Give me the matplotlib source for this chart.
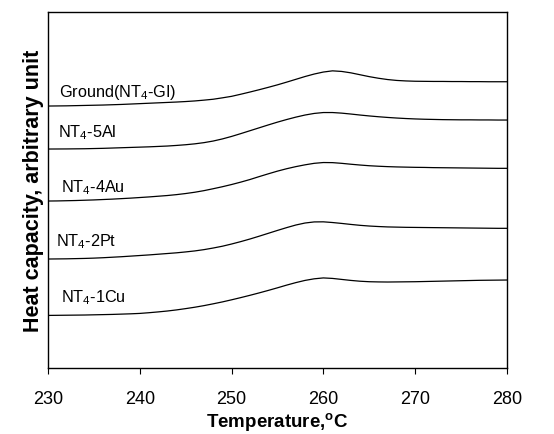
import matplotlib
matplotlib.use("Agg")
import matplotlib.pyplot as plt

plt.rcParams['font.family'] = ['Liberation Sans', 'DejaVu Sans']
plt.rcParams['mathtext.fontset'] = 'custom'
plt.rcParams['mathtext.rm'] = 'Liberation Sans'
plt.rcParams['mathtext.it'] = 'Liberation Sans:italic'
plt.rcParams['mathtext.bf'] = 'Liberation Sans:bold'

temperature = list(range(230, 281))

ground = [262.0, 262.1, 262.2, 262.4, 262.6, 262.8, 263.0, 263.3, 263.6, 264.0,
          264.4, 264.8, 265.2, 265.6, 266.0, 266.5, 267.1, 267.9, 268.8, 270.2,
          271.7, 273.8, 276.0, 278.3, 280.7, 283.2, 285.9, 288.7, 291.5, 294.0,
          296.0, 297.2, 296.6, 295.2, 293.3, 291.4, 289.8, 288.5, 287.6, 287.1,
          286.8, 286.7, 286.6, 286.6, 286.5, 286.5, 286.4, 286.4, 286.3, 286.3, 286.3]
al5 = [219.0, 219.05, 219.1, 219.2, 219.3, 219.5, 219.7, 220.0, 220.3, 220.6,
       220.9, 221.2, 221.6, 222.0, 222.6, 223.3, 224.2, 225.4, 227.0, 229.1,
       231.6, 234.4, 237.3, 240.2, 243.1, 245.9, 248.5, 250.9, 253.0, 254.6,
       255.5, 255.5, 254.9, 254.0, 253.0, 252.1, 251.3, 250.6, 250.0, 249.5,
       249.1, 248.8, 248.6, 248.4, 248.3, 248.2, 248.2, 248.1, 248.1, 248.0, 248.0]
au4 = [167.0, 167.1, 167.3, 167.5, 167.8, 168.1, 168.5, 168.9, 169.4, 169.9,
       170.5, 171.1, 171.8, 172.5, 173.4, 174.5, 175.8, 177.4, 179.3, 181.3,
       183.5, 185.9, 188.5, 191.4, 194.2, 196.9, 199.3, 201.4, 203.2, 204.7,
       205.5, 205.4, 204.7, 203.8, 203.0, 202.3, 201.8, 201.4, 201.1, 200.9,
       200.7, 200.6, 200.4, 200.3, 200.2, 200.1, 200.0, 199.9, 199.8, 199.7, 199.7]
pt2 = [109.0, 109.1, 109.2, 109.4, 109.6, 109.9, 110.3, 110.8, 111.3, 111.9,
       112.5, 113.1, 113.8, 114.5, 115.2, 116.1, 117.1, 118.4, 120.0, 121.8,
       124.0, 126.4, 129.0, 131.8, 134.7, 137.6, 140.4, 143.0, 145.0, 146.1,
       146.2, 145.5, 144.6, 143.6, 142.7, 142.0, 141.5, 141.1, 140.9, 140.7,
       140.6, 140.5, 140.4, 140.3, 140.2, 140.1, 140.0, 139.9, 139.8, 139.7, 139.7]
cu1 = [52.6, 52.7, 52.8, 52.9, 53.0, 53.2, 53.4, 53.6, 53.9, 54.2,
       54.6, 55.3, 56.1, 57.0, 58.1, 59.4, 60.8, 62.4, 64.2, 66.1,
       68.2, 70.4, 72.7, 75.1, 77.6, 80.2, 82.9, 85.4, 87.6, 89.2,
       90.1, 89.6, 88.6, 87.6, 86.8, 86.3, 86.1, 86.0, 86.1, 86.2,
       86.3, 86.5, 86.7, 86.9, 87.1, 87.3, 87.5, 87.7, 87.8, 87.9, 88.0]

labels = [r'Ground(NT$_4$-GI)', r'NT$_4$-5Al', r'NT$_4$-4Au', r'NT$_4$-2Pt', r'NT$_4$-1Cu']
label_x = [231.2, 231.1, 231.4, 230.9, 231.4]
label_y = [277, 236, 181, 127, 71]
series = [ground, al5, au4, pt2, cu1]

xticks = [230, 240, 250, 260, 270, 280]

fig = plt.figure(figsize=(5.54, 4.35), dpi=100)
ax = fig.add_axes([0.0866, 0.1517, 0.8284, 0.8183])

for s in series:
    ax.plot(temperature, s, color='black', lw=0.9)

for lab, lx, ly in zip(labels, label_x, label_y):
    ax.text(lx, ly, lab, fontsize=11.7, va='center', ha='left')

ax.set_xlim(230, 280)
ax.set_ylim(0, 356)
ax.set_xticks(xticks)
ax.set_yticks([])
ax.tick_params(axis='x', direction='out', length=4, labelsize=13, pad=12)
for sp in ax.spines.values():
    sp.set_linewidth(1.0)

ax.set_xlabel(r'Temperature,$^{\mathregular{o}}$C', fontsize=13.5, fontweight='bold', labelpad=2)
ax.set_ylabel('Heat capacity, arbitrary unit', fontsize=15.5, fontweight='bold', labelpad=3)

fig.savefig('out.png', dpi=100)
